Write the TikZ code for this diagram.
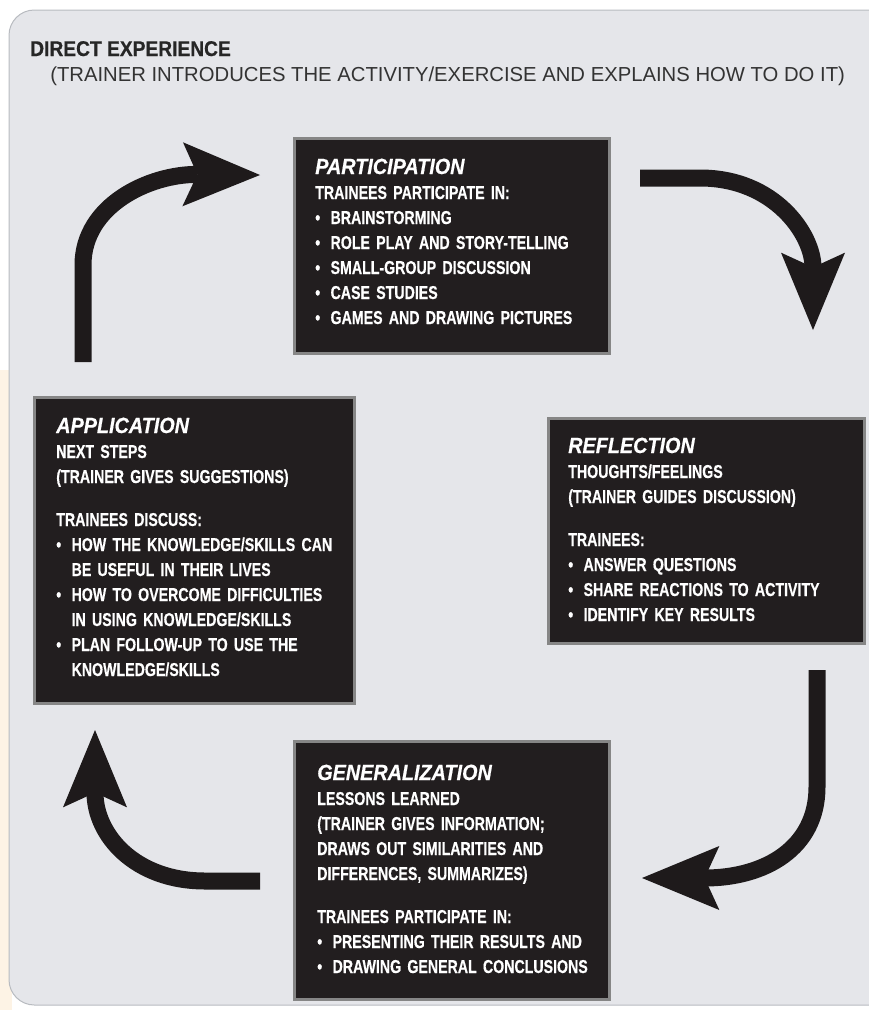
\documentclass[tikz,border=0pt]{standalone}
\usepackage{fontspec}
\setmainfont{Liberation Sans}
\newfontfamily\condfont[FakeStretch=0.76, FakeBold=0.4]{Liberation Sans}
\newfontfamily\headfont[FakeStretch=0.9, FakeBold=0.5]{Liberation Sans}
\newfontfamily\widefont[FakeStretch=1.0]{Liberation Sans}
\usetikzlibrary{arrows.meta}

\definecolor{panelgray}{HTML}{E5E6EA}
\definecolor{paneledge}{HTML}{B8BBC0}
\definecolor{creamstrip}{HTML}{FDF3E5}
\definecolor{boxfill}{HTML}{221E1F}
\definecolor{boxedge}{HTML}{868686}
\definecolor{arrowblack}{HTML}{1E1A1B}

\newcommand{\bul}{\makebox[11.5pt][l]{\textbullet}}
\newcommand{\contline}{\hspace*{11.5pt}}
\newcommand{\stagehead}[1]{{\headfont\bfseries\itshape\fontsize{16.5}{18.75}\selectfont #1}}

\tikzset{
  stage/.style={draw=boxedge, line width=2.25pt, fill=boxfill, anchor=north west, inner sep=0pt},
  stagetext/.style={anchor=base west, inner sep=0pt, text=white, align=left, text width=228pt,
    font=\condfont\bfseries\fontsize{14}{18.75}\selectfont},
  cyclearrow/.style={line width=12.75pt, draw=arrowblack,
    -{Stealth[length=58pt, width=48pt, inset=11pt, line width=0pt]}},
}

\begin{document}
\begin{tikzpicture}[x=0.75pt, y=-0.75pt]
  \useasboundingbox (0,0) rectangle (868,1010);
  % background
  \fill[creamstrip] (0,370) rectangle (12,1010);
  \draw[fill=panelgray, draw=paneledge, line width=0.75pt, rounded corners=19pt] (9,10) rectangle (900,1005);

  % heading
  \node[anchor=base west, inner sep=0pt, text=black!85, font=\headfont\bfseries\fontsize{16}{18}\selectfont] (head) at (30,56) {DIRECT EXPERIENCE};
  \node[anchor=base west, inner sep=0pt, text=black!80, font=\widefont\fontsize{15.2}{18}\selectfont] (subhead) at (50,81)
    {(TRAINER INTRODUCES THE ACTIVITY/EXERCISE AND EXPLAINS HOW TO DO IT)};

  % the four stages
  \node[stage, minimum width=236.25pt, minimum height=161.25pt] (part) at (293,137) {};
  \node[stage, minimum width=240pt, minimum height=229.5pt] (apl) at (33,396) {};
  \node[stage, minimum width=237pt, minimum height=168.75pt] (refl) at (547,417) {};
  \node[stage, minimum width=236.25pt, minimum height=193.5pt] (gen) at (293,740) {};

  \node[stagetext] (part-text) at ([shift={(22,37)}]part.north west) {%
    \stagehead{PARTICIPATION}\\
    TRAINEES PARTICIPATE IN:\\
    \bul BRAINSTORMING\\
    \bul ROLE PLAY AND STORY-TELLING\\
    \bul SMALL-GROUP DISCUSSION\\
    \bul CASE STUDIES\\
    \bul GAMES AND DRAWING PICTURES};

  \node[stagetext] (apl-text) at ([shift={(23,37)}]apl.north west) {%
    \stagehead{APPLICATION}\\
    NEXT STEPS\\
    (TRAINER GIVES SUGGESTIONS)\\[13.5pt]
    TRAINEES DISCUSS:\\
    \bul HOW THE KNOWLEDGE/SKILLS CAN\\
    \contline BE USEFUL IN THEIR LIVES\\
    \bul HOW TO OVERCOME DIFFICULTIES\\
    \contline IN USING KNOWLEDGE/SKILLS\\
    \bul PLAN FOLLOW-UP TO USE THE\\
    \contline KNOWLEDGE/SKILLS};

  \node[stagetext] (refl-text) at ([shift={(21,36)}]refl.north west) {%
    \stagehead{REFLECTION}\\
    THOUGHTS/FEELINGS\\
    (TRAINER GUIDES DISCUSSION)\\[13.5pt]
    TRAINEES:\\
    \bul ANSWER QUESTIONS\\
    \bul SHARE REACTIONS TO ACTIVITY\\
    \bul IDENTIFY KEY RESULTS};

  \node[stagetext] (gen-text) at ([shift={(24,40)}]gen.north west) {%
    \stagehead{GENERALIZATION}\\
    LESSONS LEARNED\\
    (TRAINER GIVES INFORMATION;\\
    DRAWS OUT SIMILARITIES AND\\
    DIFFERENCES, SUMMARIZES)\\[13.5pt]
    TRAINEES PARTICIPATE IN:\\
    \bul PRESENTING THEIR RESULTS AND\\
    \bul DRAWING GENERAL CONCLUSIONS};

  % cycle arrows
  \coordinate (apl-out) at (83,362);
  \coordinate (part-in) at (260,175);
  \coordinate (part-out) at (640,178);
  \coordinate (refl-in) at (813,330);
  \coordinate (refl-out) at (817,670);
  \coordinate (gen-in) at (642,878);
  \coordinate (gen-out) at (260,881);
  \coordinate (apl-in) at (95,730);

  \draw[cyclearrow] (apl-out) -- (83,265) .. controls (83,205) and (150,174) .. (part-in);
  \draw[cyclearrow] (part-out) -- (700,178) .. controls (775,178) and (813,235) .. (refl-in);
  \draw[cyclearrow] (refl-out) -- (817,787) .. controls (817,848) and (765,878) .. (gen-in);
  \draw[cyclearrow] (gen-out) -- (205,881) .. controls (135,881) and (95,835) .. (apl-in);
\end{tikzpicture}
\end{document}
